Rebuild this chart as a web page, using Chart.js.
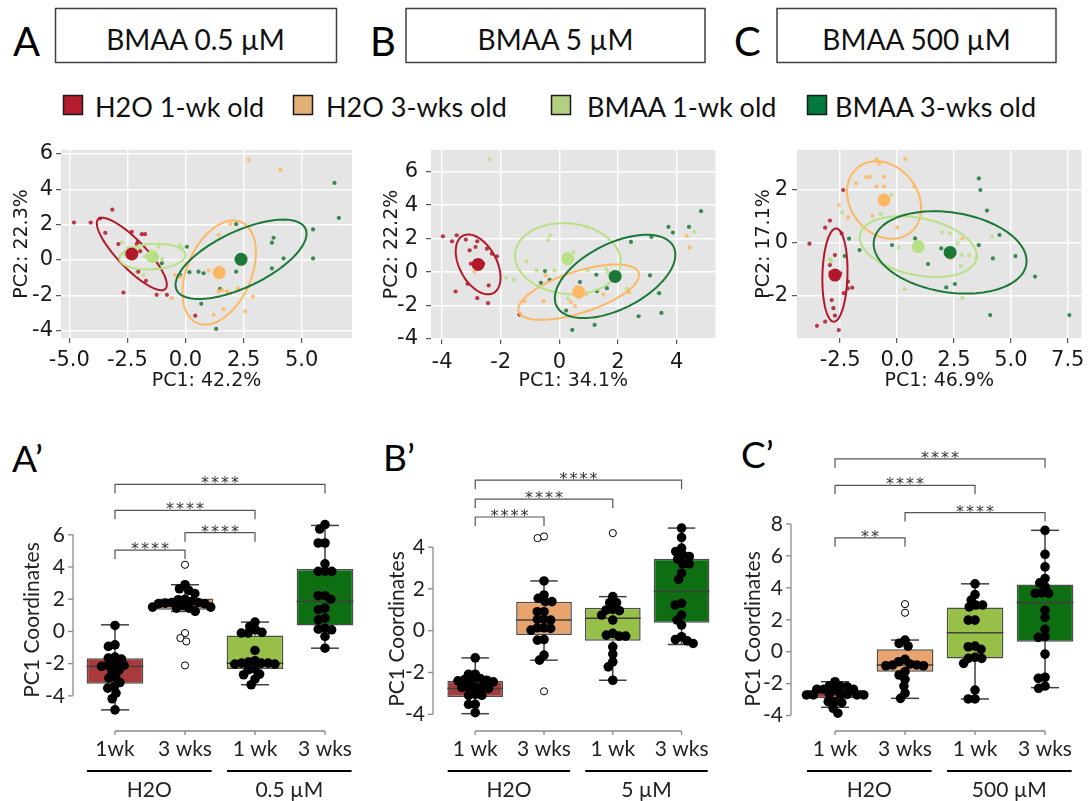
<!DOCTYPE html>
<html>
<head>
<meta charset="utf-8">
<script src="https://cdn.jsdelivr.net/npm/chart.js@4.4.1/dist/chart.umd.min.js"></script>
<style>
  body { margin: 0; width: 1088px; height: 801px; position: relative; overflow: hidden; background: #fff; }
  svg, canvas { position: absolute; }
</style>
</head>
<body>
<svg width="1088" height="801" style="left:0;top:0" font-family="Lato, sans-serif">
  <g fill="#000">
    <text x="13" y="56" font-size="40">A</text>
    <text x="370" y="56" font-size="40">B</text>
    <text x="734" y="56" font-size="40">C</text>
    <text x="12" y="472" font-size="37">A’</text>
    <text x="383" y="471" font-size="37">B’</text>
    <text x="741" y="468" font-size="37">C’</text>
  </g>
  <g fill="none" stroke="#404040" stroke-width="1.5">
    <rect x="55.5" y="8.5" width="281" height="54"/>
    <rect x="406" y="8.5" width="299" height="54"/>
    <rect x="777" y="8.5" width="279" height="54"/>
  </g>
  <g fill="#111" font-size="28" text-anchor="middle">
    <text x="195.5" y="50">BMAA 0.5 µM</text>
    <text x="555.5" y="50">BMAA 5 µM</text>
    <text x="916.5" y="50">BMAA 500 µM</text>
  </g>
  <g stroke="#1a1a1a" stroke-width="1.5">
    <rect x="63.5" y="95.5" width="19" height="19" fill="#b51c2e"/>
    <rect x="293.5" y="95.5" width="19" height="19" fill="#e3b07a"/>
    <rect x="551.5" y="95.5" width="19" height="19" fill="#b3cf82"/>
    <rect x="807.5" y="95.5" width="19" height="19" fill="#037a3b"/>
  </g>
  <g fill="#111" font-size="27">
    <text x="95" y="117">H2O 1-wk old</text>
    <text x="326" y="117">H2O 3-wks old</text>
    <text x="587" y="117">BMAA 1-wk old</text>
    <text x="835" y="117">BMAA 3-wks old</text>
  </g>
</svg>

<canvas id="pcaA" width="360" height="252" style="left:0;top:140px"></canvas>
<canvas id="pcaB" width="352" height="252" style="left:370px;top:140px"></canvas>
<canvas id="pcaC" width="366" height="252" style="left:722px;top:140px"></canvas>
<canvas id="boxA" width="370" height="401" style="left:0;top:400px"></canvas>
<canvas id="boxB" width="350" height="401" style="left:370px;top:400px"></canvas>
<canvas id="boxC" width="368" height="401" style="left:720px;top:400px"></canvas>

<script>
// Groups, same order everywhere: H2O 1 wk, H2O 3 wks, BMAA 1 wk, BMAA 3 wks
const pcaColors = ['#b2182b', '#fdb863', '#b8e186', '#1b7837'];
const boxColors = ['#a83a3c', '#e9a46e', '#96c048', '#0d6e12'];

// ---- PCA, panel A (0.5 µM) ----
const pcaA_h2o1 = [[-4.8, 2.12], [-4.08, 2.12], [-3.68, 2.35], [-3.45, 1.54], [-3.15, 2.85], [-2.89, 0.9], [-2.31, 1.6], [-2.1, 0.9], [-2.05, 1.03], [-1.88, 1.46], [-1.74, 1.46], [-2.27, 0.6], [-2.03, -0.66], [-1.7, -1.18], [-2.67, -1.84], [-1.24, -1.97], [-0.8, -1.97], [0.42, -3.15], [-1.95, 0.5]];
const pcaA_h2o3 = [[2.72, 5.67], [4.08, 5.1], [1.93, 2.03], [1.42, 1.41], [-0.45, -0.85], [-0.59, -2.16], [1.42, -1.78], [1.57, -1.7], [1.78, -1.78], [1.93, -1.88], [2.25, -1.6], [2.9, -2.07], [1.21, -3.1], [1.64, -2.78], [2.57, -2.91], [-0.23, -0.95], [1.0, -0.6]];
const pcaA_bmaa1 = [[-2.74, 0.98], [-2.46, 0.69], [-2.03, 0.66], [-1.98, 0.48], [-1.16, 0.75], [-0.23, 0.85], [-0.16, 0.66], [-1.81, -0.85], [-2.1, -0.66], [-1.16, -0.28], [-1.74, 0.19], [-1.0, 0.05], [-2.6, 0.3], [-1.5, 0.5]];
const pcaA_bmaa3 = [[6.41, 4.36], [6.6, 2.38], [5.49, 1.73], [5.49, 0.09], [3.79, 1.26], [3.72, 0.98], [4.22, 0.09], [3.72, -0.47], [2.18, 2.03], [2.18, -0.66], [0.56, -0.66], [0.17, -0.69], [0.06, 0.75], [0.78, -0.75], [-1.02, -0.19], [1.49, -1.63], [0.68, -2.48], [1.32, -3.9], [-0.23, -0.85]];
const pcaA_centroids = [[-2.31, 0.34], [1.45, -0.71], [-1.42, 0.19], [2.39, 0.04]];
const pcaA_ellU = [[-1.44, 1.98], [0.94, 2.86], [1.42, 0.1], [2.77, 1.74]];
const pcaA_ellV = [[0.44, 0.54], [1.27, -0.71], [0, 0.72], [-0.52, 1.42]];
const pcaA_xTicks = [-5, -2.5, 0, 2.5, 5];
const pcaA_yTicks = [-4, -2, 0, 2, 4, 6];

// ---- PCA, panel B (5 µM) ----
const pcaB_h2o1 = [[-3.97, 2.14], [-3.66, 1.84], [-3.5, 2.2], [-3.19, 1.94], [-2.8, 1.84], [-3.06, 1.3], [-2.86, 1.5], [-2.47, 1.4], [-2.3, 1.1], [-2.13, 0.94], [-3.02, 0.5], [-2.69, 0.6], [-2.6, 0.5], [-3.13, -0.7], [-2.41, -0.8], [-3.54, -1.16], [-2.8, -1.56], [-2.43, -1.86], [-1.36, -2.54]];
const pcaB_h2o3 = [[-1.19, -1.74], [-0.54, -1.74], [-0.47, -0.2], [0.39, -1.8], [0.53, -2.04], [0.92, -1.3], [1.5, -1.34], [2.37, -1.2], [4.34, 2.16], [4.44, 1.46], [-2.89, 0.04], [0.6, -0.9]];
const pcaB_bmaa1 = [[-2.38, 6.74], [-0.32, 2.2], [-0.39, 1.9], [0.94, 2.7], [0.48, 1.2], [-1.12, 0.64], [-1.82, -0.34], [-1.56, -0.46], [-0.77, 0.1], [-0.17, 0.1], [0.07, -0.36], [0.96, 0.1], [1.59, 0.2], [1.65, 0.0], [4.61, 2.42], [0.3, -1.6], [2.3, -1.0]];
const pcaB_bmaa3 = [[4.83, 3.64], [3.72, 2.7], [3.87, 2.36], [4.42, 2.7], [3.14, 2.1], [2.44, 1.8], [3.09, -0.2], [3.4, -1.26], [3.48, -2.44], [2.7, -2.64], [1.2, -3.16], [0.44, -3.46], [0.23, -2.3], [-0.49, 0.06], [-0.33, -0.46], [-0.63, -0.64], [0.7, -0.6], [1.26, -0.16], [1.28, -1.14], [1.62, -0.96]];
const pcaB_centroids = [[-2.77, 0.46], [0.66, -1.2], [0.29, 0.8], [1.9, -0.26]];
const pcaB_ellU = [[-0.53, 1.7], [2.05, 1.15], [1.8, -0.3], [2.0, 1.75]];
const pcaB_ellV = [[0.55, 0.55], [-0.2, 1.19], [0.1, 2.1], [-0.47, 1.77]];
const pcaB_xTicks = [-4, -2, 0, 2, 4];
const pcaB_yTicks = [-4, -2, 0, 2, 4, 6];

// ---- PCA, panel C (500 µM) ----
const pcaC_h2o1 = [[-3.85, -0.04], [-3.16, 0.57], [-2.95, 0.84], [-2.37, 2.0], [-2.44, 0.35], [-2.73, -0.47], [-2.95, -0.85], [-2.92, -1.14], [-2.5, -1.17], [-2.16, -1.48], [-1.97, -1.71], [-2.16, -1.74], [-2.34, -1.92], [-2.87, -2.18], [-2.8, -2.49], [-2.73, -2.77], [-3.16, -3.0], [-3.52, -3.16], [-2.56, -3.32]];
const pcaC_h2o3 = [[-0.9, 3.16], [0.36, 3.18], [-0.79, 2.99], [-1.36, 2.48], [-1.2, 2.5], [-1.8, 2.25], [-0.57, 2.5], [-0.9, 2.13], [-0.57, 2.13], [0.76, 2.13], [-2.56, 1.43], [-2.16, 0.96], [0, 0.58], [2.87, 0.16], [2.37, -0.59], [-1.08, 1.02]];
const pcaC_bmaa1 = [[-2.41, 1.15], [-2.95, -0.63], [-0.72, 1.09], [-0.24, 1.81], [0.07, -0.18], [1.97, 0.39], [2.34, 0.35], [2.66, -0.03], [2.84, -0.47], [3.16, -0.47], [3.49, -0.56], [4.17, 0.23], [2.8, -0.89], [0.33, -1.76], [2.87, -2.11], [-2.9, -0.7]];
const pcaC_bmaa3 = [[3.59, 2.44], [3.66, 2.0], [3.95, 1.22], [4.5, 0.29], [3.59, -0.09], [4.21, -0.6], [5.2, -0.51], [6.06, -1.29], [4.09, -2.75], [7.57, -2.75], [2.54, -1.57], [2.16, -1.7], [1.36, -0.81], [0.79, 0.16], [-0.22, -0.09], [1.94, -0.22], [-1.65, -0.28], [-2.11, 0.15], [-2.3, -0.51], [0.9, -0.1]];
const pcaC_centroids = [[-2.73, -1.23], [-0.57, 1.62], [0.93, -0.15], [2.33, -0.37]];
const pcaC_ellU = [[0.05, 1.77], [-1.2, 1.2], [2.57, -0.35], [3.35, -0.44]];
const pcaC_ellV = [[0.55, 0], [1.1, 0.85], [0, 1.1], [0.25, 1.5]];
const pcaC_xTicks = [-2.5, 0, 2.5, 5, 7.5];
const pcaC_yTicks = [-2, 0, 2];

// ---- Box plots of PC1 ----
const boxCatsA = ['1wk', '3 wks', '1 wk', '3 wks'];
const boxCatsBC = ['1 wk', '3 wks', '1 wk', '3 wks'];

const boxA_q1 = [-3.25, 1.35, -2.34, 0.37];
const boxA_med = [-2.17, 1.55, -1.97, 1.86];
const boxA_q3 = [-1.66, 2.05, -0.25, 3.87];
const boxA_lo = [-4.87, 1.24, -3.31, -1.04];
const boxA_hi = [0.41, 2.9, 0.58, 6.58];
const boxA_points = [
  [0.37, -0.93, -0.83, -1.72, -1.59, -1.66, -2.07, -2.11, -2.11, -2.17, -2.48, -2.42, -2.84, -2.9, -3.17, -3.42, -3.52, -3.83, -4.18, -4.87],
  [2.9, 2.65, 2.55, 2.35, 2.0, 1.97, 1.86, 1.8, 1.8, 1.76, 1.72, 1.72, 1.6, 1.51, 1.51, 1.45, 1.45, 1.25],
  [0.58, 0.31, 0.1, -0.06, -0.1, -0.1, -1.18, -1.82, -1.9, -1.97, -1.97, -2.03, -2.03, -1.97, -2.34, -2.38, -2.69, -2.65, -2.96, -3.31],
  [6.63, 6.36, 5.49, 5.49, 4.2, 3.73, 3.73, 3.73, 2.22, 2.22, 1.45, 1.35, 2.0, 0.83, 0.72, 0.1, 0.14, 0.2, -0.31, -1.04]
];
const boxA_outliers = [[], [4.14, -0.1, -0.41, -0.62, -2.11], [], []];
const boxA_yTicks = [-4, -2, 0, 2, 4, 6];
const boxA_groups = ['H2O', '0.5 µM'];
const boxA_brackets = [[0, 1, 5.05, '****'], [1, 2, 6.13, '****'], [0, 2, 7.52, '****'], [0, 3, 9.13, '****']];

const boxB_q1 = [-3.17, -0.21, -0.48, 0.38];
const boxB_med = [-2.77, 0.51, 0.59, 1.87];
const boxB_q3 = [-2.4, 1.39, 1.1, 3.44];
const boxB_lo = [-3.97, -1.41, -2.37, -0.66];
const boxB_hi = [-1.3, 2.38, 1.63, 4.91];
const boxB_points = [
  [-1.3, -2.08, -2.08, -2.34, -2.37, -2.4, -2.45, -2.37, -2.29, -2.72, -2.77, -2.72, -2.72, -2.69, -3.09, -3.04, -3.09, -3.52, -3.52, -3.92],
  [2.38, 1.71, 1.55, 1.39, 1.39, 0.91, 0.91, 0.54, 0.51, 0.54, 0.11, 0.03, 0.14, 0.14, -0.42, -0.45, -1.17, -1.41],
  [1.63, 1.34, 1.34, 1.02, 0.99, 0.96, 0.75, 0.51, -0.26, -0.26, -0.21, -0.13, -0.77, -1.12, -1.49, -1.73, -2.37],
  [4.91, 4.46, 3.95, 3.79, 3.63, 3.55, 3.42, 3.2, 3.2, 2.75, 2.46, 1.31, 1.23, 0.51, 0.75, 0.27, -0.29, -0.48, -0.61, -0.42]
];
const boxB_outliers = [[], [4.51, 4.43, -2.9], [4.67], []];
const boxB_yTicks = [-4, -2, 0, 2, 4];
const boxB_groups = ['H2O', '5 µM'];
const boxB_brackets = [[0, 1, 5.44, '****'], [0, 2, 6.3, '****'], [0, 3, 7.2, '****']];

const boxC_q1 = [-2.92, -1.25, -0.42, 0.63];
const boxC_med = [-2.6, -0.83, 1.19, 3.08];
const boxC_q3 = [-2.4, 0.15, 2.77, 4.21];
const boxC_lo = [-3.48, -2.92, -2.96, -2.25];
const boxC_hi = [-1.88, 0.73, 4.25, 7.6];
const boxC_points = [
  [-1.88, -2.19, -2.15, -2.13, -2.35, -2.35, -2.35, -2.4, -2.71, -2.71, -2.65, -2.71, -2.65, -2.71, -2.67, -3.13, -3.19, -3.13, -3.54, -3.85],
  [0.73, 0.52, 0.35, -0.83, -0.88, -0.88, -0.48, -0.63, -0.83, -0.77, -1.25, -1.46, -1.73, -2.15, -2.6, -2.92],
  [4.25, 3.58, 3.23, 2.92, 2.81, 2.92, 1.98, 1.98, 0.31, 0.35, 0.15, -0.42, -0.42, -0.35, -0.73, -2.4, -2.96, -2.96],
  [7.6, 6.1, 5.31, 4.58, 4.06, 4.31, 3.65, 3.65, 3.69, 2.6, 2.15, 1.4, 0.94, 0.9, -0.15, -1.6, -1.67, -2.15, -2.29]
];
const boxC_outliers = [[], [2.98, 2.44], [], []];
const boxC_yTicks = [-4, -2, 0, 2, 4, 6, 8];
const boxC_groups = ['H2O', '500 µM'];
const boxC_brackets = [[0, 1, 7.13, '**'], [1, 3, 8.71, '****'], [0, 2, 10.42, '****'], [0, 3, 12.08, '****']];

// ------------------------------------------------------------------
function rgba(hex, a) {
  const n = parseInt(hex.slice(1), 16);
  return `rgba(${n >> 16},${(n >> 8) & 255},${n & 255},${a})`;
}

const pcaTickFont = { family: 'DejaVu Sans', size: 21 };
const pcaTitleFont = { family: 'DejaVu Sans', size: 19 };

function pcaAxis(c, horizontal) {
  return {
    type: 'linear', min: c.min, max: c.max,
    afterBuildTicks: s => { s.ticks = c.ticks.map(v => ({ value: v })); },
    afterFit: s => {
      if (horizontal) { s.height = c.size; s.paddingLeft = 0; s.paddingRight = 0; }
      else { s.width = c.size; s.paddingTop = 0; s.paddingBottom = 0; }
    },
    grid: { color: '#ffffff', lineWidth: 1.4, tickColor: '#333333', tickLength: 5, tickWidth: 1 },
    border: { display: false },
    ticks: { autoSkip: false, maxRotation: 0, padding: c.pad, color: '#1a1a1a', font: pcaTickFont,
      callback: v => v.toFixed(c.digits) },
    title: { display: true, text: c.title, color: '#1a1a1a', font: pcaTitleFont,
      padding: horizontal ? { top: 0, bottom: 0 } : { top: c.titlePad, bottom: 0 } }
  };
}

// gray panel + confidence ellipses (drawn just before the centroid dots)
function pcaPlugin(centers, ellU, ellV) {
  return {
    id: 'pcaPanel',
    beforeDraw(chart) {
      const { ctx, chartArea: a } = chart;
      ctx.save();
      ctx.fillStyle = '#e5e5e5';
      ctx.fillRect(a.left, a.top, a.width, a.height);
      ctx.restore();
    },
    beforeDatasetDraw(chart, args) {
      if (chart.data.datasets[args.index].role !== 'centroid') return;
      const { ctx } = chart;
      const xs = chart.scales.x, ys = chart.scales.y;
      ctx.save();
      ctx.lineWidth = 2;
      centers.forEach((c, g) => {
        const u = ellU[g], v = ellV[g];
        ctx.strokeStyle = pcaColors[g];
        ctx.beginPath();
        for (let k = 0; k <= 120; k++) {
          const t = k / 120 * Math.PI * 2;
          const px = xs.getPixelForValue(c[0] + u[0] * Math.cos(t) + v[0] * Math.sin(t));
          const py = ys.getPixelForValue(c[1] + u[1] * Math.cos(t) + v[1] * Math.sin(t));
          if (k === 0) ctx.moveTo(px, py); else ctx.lineTo(px, py);
        }
        ctx.closePath();
        ctx.stroke();
      });
      ctx.restore();
    }
  };
}

function makePca(id, o) {
  const datasets = o.groups.map((pts, g) => ({
    type: 'scatter',
    data: pts.map(p => ({ x: p[0], y: p[1] })),
    pointRadius: 2.1,
    pointBorderWidth: 0,
    pointBackgroundColor: rgba(pcaColors[g], 0.85),
    order: 1
  }));
  datasets.push({
    type: 'scatter',
    role: 'centroid',
    data: o.centroids.map(p => ({ x: p[0], y: p[1] })),
    pointRadius: 6.5,
    pointBorderWidth: 0,
    pointBackgroundColor: pcaColors,
    order: 0
  });
  return new Chart(document.getElementById(id), {
    type: 'scatter',
    data: { datasets },
    options: {
      responsive: false, animation: false, devicePixelRatio: 1,
      layout: { padding: { top: 10, right: o.padRight, left: 0, bottom: 0 } },
      plugins: { legend: { display: false }, tooltip: { enabled: false } },
      scales: { x: pcaAxis(o.x, true), y: pcaAxis(o.y, false) }
    },
    plugins: [pcaPlugin(o.centroids, o.ellU, o.ellV)]
  });
}

// simple beeswarm in pixel space
function swarm(pys, d) {
  const order = pys.map((p, i) => i).sort((a, b) => pys[a] - pys[b]);
  const placed = [];
  const offs = [];
  order.forEach(i => {
    const y = pys[i];
    const near = placed.filter(p => Math.abs(p.y - y) < d);
    const cands = [0];
    near.forEach(p => {
      const w = Math.sqrt(d * d - (p.y - y) ** 2);
      cands.push(p.x - w, p.x + w);
    });
    cands.sort((a, b) => Math.abs(a) - Math.abs(b) || a - b);
    const x = cands.find(c => near.every(p => (p.x - c) ** 2 + (p.y - y) ** 2 >= d * d - 0.01));
    placed.push({ x, y });
    offs[i] = x;
  });
  return offs;
}

function boxPlugin(o) {
  const seg = (ctx, x0, y0, x1, y1) => { ctx.beginPath(); ctx.moveTo(x0, y0); ctx.lineTo(x1, y1); ctx.stroke(); };
  return {
    id: 'boxExtras',
    afterDatasetDraw(chart, args) {
      if (chart.data.datasets[args.index].type !== 'bar') return;
      const { ctx } = chart;
      const xs = chart.scales.x, ys = chart.scales.y;
      ctx.save();
      ctx.strokeStyle = '#404040';
      ctx.lineWidth = 1.5;
      o.q1.forEach((q1, i) => {
        const x = xs.getPixelForValue(i);
        const cap = xs.getPixelForValue(i + 0.2) - x;
        const half = xs.getPixelForValue(i + 0.405) - x;
        const yHi = ys.getPixelForValue(o.hi[i]), yLo = ys.getPixelForValue(o.lo[i]);
        seg(ctx, x, ys.getPixelForValue(o.q3[i]), x, yHi);
        seg(ctx, x - cap, yHi, x + cap, yHi);
        seg(ctx, x, ys.getPixelForValue(q1), x, yLo);
        seg(ctx, x - cap, yLo, x + cap, yLo);
        const yMed = ys.getPixelForValue(o.med[i]);
        seg(ctx, x - half, yMed, x + half, yMed);
      });
      ctx.restore();
    },
    afterDraw(chart) {
      const { ctx, chartArea: a } = chart;
      const xs = chart.scales.x, ys = chart.scales.y;
      ctx.save();
      // axis lines
      ctx.strokeStyle = '#8a8a8a';
      ctx.lineWidth = 1.3;
      const yTop = ys.getPixelForValue(o.yTicks[o.yTicks.length - 1]);
      const yBot = ys.getPixelForValue(o.yTicks[0]);
      seg(ctx, a.left, yTop, a.left, yBot);
      o.yTicks.forEach(v => { const y = ys.getPixelForValue(v); seg(ctx, a.left - 5, y, a.left, y); });
      const base = a.bottom - 4;
      seg(ctx, xs.getPixelForValue(0), base, xs.getPixelForValue(o.cats.length - 1), base);
      o.cats.forEach((c, i) => { const x = xs.getPixelForValue(i); seg(ctx, x, base, x, base + 4); });
      // treatment groups under the categories
      ctx.strokeStyle = '#000';
      ctx.lineWidth = 2;
      ctx.fillStyle = '#222';
      ctx.font = '21px Lato';
      ctx.textAlign = 'center';
      o.groups.forEach((g, k) => {
        const x0 = xs.getPixelForValue(2 * k - 0.4), x1 = xs.getPixelForValue(2 * k + 1.38);
        seg(ctx, x0, a.bottom + 36, x1, a.bottom + 36);
        ctx.fillText(g, (x0 + x1) / 2, a.bottom + 62);
      });
      // significance brackets
      ctx.strokeStyle = '#555';
      ctx.lineWidth = 1.2;
      ctx.fillStyle = '#333';
      ctx.font = '16px "DejaVu Sans"';
      ctx.letterSpacing = '2px';
      o.brackets.forEach(([i, j, v, lab]) => {
        const y = ys.getPixelForValue(v), x0 = xs.getPixelForValue(i), x1 = xs.getPixelForValue(j);
        ctx.beginPath();
        ctx.moveTo(x0, y + 9); ctx.lineTo(x0, y); ctx.lineTo(x1, y); ctx.lineTo(x1, y + 9);
        ctx.stroke();
        ctx.fillText(lab, (x0 + x1) / 2 + 1, y + 4);
      });
      ctx.restore();
    }
  };
}

function makeBox(id, o) {
  const labelFont = { family: 'Lato', size: 21 };
  const pts = [], outs = [];
  const chart = new Chart(document.getElementById(id), {
    type: 'bar',
    data: {
      datasets: [
        { type: 'scatter', data: pts, pointRadius: 4.8, pointBorderWidth: 0, pointBackgroundColor: '#000', order: 0 },
        { type: 'scatter', data: outs, pointRadius: 3.6, pointBorderWidth: 1, pointBorderColor: '#000', pointBackgroundColor: '#fff', order: 0 },
        {
          type: 'bar',
          data: o.q1.map((q, i) => ({ x: i, y: [q, o.q3[i]] })),
          backgroundColor: boxColors, borderColor: '#4d4d4d', borderWidth: 1.5, borderSkipped: false,
          barPercentage: 1, categoryPercentage: 0.81, order: 2
        }
      ]
    },
    options: {
      responsive: false, animation: false, devicePixelRatio: 1,
      layout: { padding: { top: o.padTop, right: o.padRight, left: 0, bottom: 0 } },
      plugins: { legend: { display: false }, tooltip: { enabled: false } },
      scales: {
        x: {
          type: 'linear', min: o.xMin, max: o.xMax, offset: false,
          afterBuildTicks: s => { s.ticks = o.cats.map((c, i) => ({ value: i })); },
          afterFit: s => { s.height = 66; s.paddingLeft = 0; s.paddingRight = 0; },
          grid: { display: false, drawTicks: false, offset: false },
          border: { display: false },
          ticks: { padding: 2, color: '#222', font: labelFont, autoSkip: false, maxRotation: 0, callback: v => o.cats[v] }
        },
        y: {
          type: 'linear', min: o.yMin, max: o.yMax, beginAtZero: false,
          afterBuildTicks: s => { s.ticks = o.yTicks.map(v => ({ value: v })); },
          afterFit: s => { s.width = o.yAxisWidth; s.paddingTop = 0; s.paddingBottom = 0; },
          grid: { display: false, drawTicks: false },
          border: { display: false },
          ticks: { padding: 8, color: '#222', font: labelFont, autoSkip: false, callback: v => String(v) },
          title: { display: true, text: 'PC1 Coordinates', color: '#222', font: labelFont, padding: { top: o.yTitlePad, bottom: 0 } }
        }
      }
    },
    plugins: [boxPlugin(o)]
  });
  // spread the dots of each box sideways with the chart's own scales
  const xs = chart.scales.x, ys = chart.scales.y;
  o.points.forEach((vals, g) => {
    const all = vals.concat(o.outliers[g]);
    const offs = swarm(all.map(v => ys.getPixelForValue(v)), 6.8);
    all.forEach((v, k) => {
      const p = { x: xs.getValueForPixel(xs.getPixelForValue(g) + offs[k]), y: v };
      if (k < vals.length) pts.push(p); else outs.push(p);
    });
  });
  chart.update('none');
  return chart;
}

makePca('pcaA', {
  groups: [pcaA_h2o1, pcaA_h2o3, pcaA_bmaa1, pcaA_bmaa3],
  centroids: pcaA_centroids, ellU: pcaA_ellU, ellV: pcaA_ellV, padRight: 8,
  x: { min: -5.357, max: 7.165, ticks: pcaA_xTicks, digits: 1, title: 'PC1: 42.2%', size: 54, pad: 5 },
  y: { min: -4.414, max: 6.226, ticks: pcaA_yTicks, digits: 0, title: 'PC2: 22.3%', size: 61, pad: 3, titlePad: 10.6 }
});
makePca('pcaB', {
  groups: [pcaB_h2o1, pcaB_h2o3, pcaB_bmaa1, pcaB_bmaa3],
  centroids: pcaB_centroids, ellU: pcaB_ellU, ellV: pcaB_ellV, padRight: 0,
  x: { min: -4.377, max: 5.323, ticks: pcaB_xTicks, digits: 0, title: 'PC1: 34.1%', size: 53, pad: 6 },
  y: { min: -4.0, max: 7.297, ticks: pcaB_yTicks, digits: 0, title: 'PC2: 22.2%', size: 61, pad: 8, titlePad: 10.6 }
});
makePca('pcaC', {
  groups: [pcaC_h2o1, pcaC_h2o3, pcaC_bmaa1, pcaC_bmaa3],
  centroids: pcaC_centroids, ellU: pcaC_ellU, ellV: pcaC_ellV, padRight: 1,
  x: { min: -4.397, max: 8.103, ticks: pcaC_xTicks, digits: 1, title: 'PC1: 46.9%', size: 54, pad: 5 },
  y: { min: -3.621, max: 3.519, ticks: pcaC_yTicks, digits: 0, title: 'PC2: 17.1%', size: 75, pad: 4, titlePad: 30.6 }
});

makeBox('boxA', {
  cats: boxCatsA, groups: boxA_groups, brackets: boxA_brackets, yTicks: boxA_yTicks,
  q1: boxA_q1, med: boxA_med, q3: boxA_q3, lo: boxA_lo, hi: boxA_hi, points: boxA_points, outliers: boxA_outliers,
  xMin: -0.6, xMax: 3.5, yMin: -6.43, yMax: 7.85, padTop: 105, padRight: 10, yAxisWidth: 73, yTitlePad: 19.4
});
makeBox('boxB', {
  cats: boxCatsBC, groups: boxB_groups, brackets: boxB_brackets, yTicks: boxB_yTicks,
  q1: boxB_q1, med: boxB_med, q3: boxB_q3, lo: boxB_lo, hi: boxB_hi, points: boxB_points, outliers: boxB_outliers,
  xMin: -0.614, xMax: 3.486, yMin: -4.99, yMax: 5.153, padTop: 123, padRight: 0, yAxisWidth: 63, yTitlePad: 14.4
});
makeBox('boxC', {
  cats: boxCatsBC, groups: boxC_groups, brackets: boxC_brackets, yTicks: boxC_yTicks,
  q1: boxC_q1, med: boxC_med, q3: boxC_q3, lo: boxC_lo, hi: boxC_hi, points: boxC_points, outliers: boxC_outliers,
  xMin: -0.629, xMax: 3.471, yMin: -5.216, yMax: 8.059, padTop: 123, padRight: 10, yAxisWidth: 71, yTitlePad: 20.4
});
</script>
</body>
</html>
